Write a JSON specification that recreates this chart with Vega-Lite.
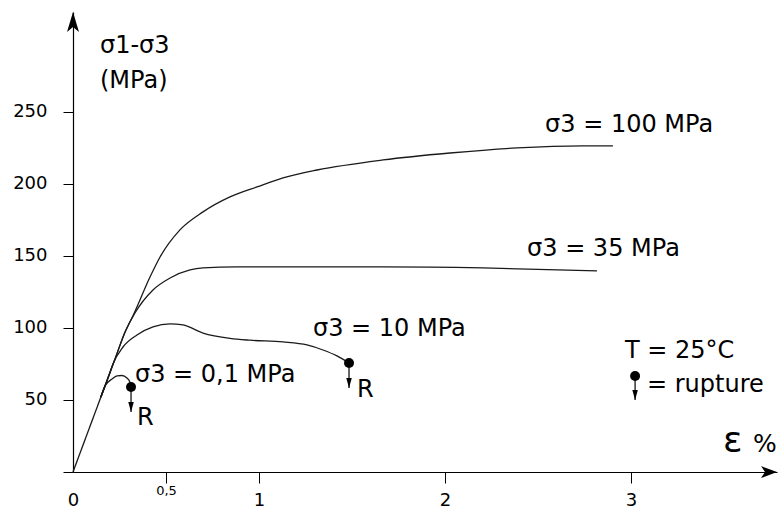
{
  "$schema": "https://vega.github.io/schema/vega-lite/v6.json",
  "width": 704,
  "height": 460,
  "autosize": {"type": "none"},
  "padding": {"left": 73, "top": 12, "right": 2, "bottom": 37},
  "background": "white",
  "config": {"view": {"stroke": null}, "font": "DejaVu Sans"},
  "datasets": {
    "curves": [
      {"s": "base", "x": 0, "y": 0},
      {"s": "base", "x": 0.172, "y": 59.7},
      {"s": "0.1", "x": 0.15, "y": 52.1},
      {"s": "0.1", "x": 0.172, "y": 59.7},
      {"s": "0.1", "x": 0.21, "y": 64.6},
      {"s": "0.1", "x": 0.237, "y": 66.7},
      {"s": "0.1", "x": 0.263, "y": 67.0},
      {"s": "0.1", "x": 0.29, "y": 65.3},
      {"s": "0.1", "x": 0.306, "y": 62.5},
      {"s": "0.1", "x": 0.312, "y": 59.0},
      {"s": "10", "x": 0.15, "y": 52.1},
      {"s": "10", "x": 0.172, "y": 59.7},
      {"s": "10", "x": 0.199, "y": 69.1},
      {"s": "10", "x": 0.215, "y": 75.0},
      {"s": "10", "x": 0.269, "y": 86.8},
      {"s": "10", "x": 0.344, "y": 95.1},
      {"s": "10", "x": 0.43, "y": 100.7},
      {"s": "10", "x": 0.522, "y": 102.8},
      {"s": "10", "x": 0.591, "y": 102.1},
      {"s": "10", "x": 0.699, "y": 96.5},
      {"s": "10", "x": 0.844, "y": 92.8},
      {"s": "10", "x": 0.952, "y": 91.5},
      {"s": "10", "x": 1.129, "y": 90.3},
      {"s": "10", "x": 1.258, "y": 88.2},
      {"s": "10", "x": 1.344, "y": 84.7},
      {"s": "10", "x": 1.419, "y": 80.6},
      {"s": "10", "x": 1.484, "y": 75.7},
      {"s": "35", "x": 0.15, "y": 52.1},
      {"s": "35", "x": 0.172, "y": 59.7},
      {"s": "35", "x": 0.231, "y": 80.3},
      {"s": "35", "x": 0.28, "y": 97.2},
      {"s": "35", "x": 0.333, "y": 110.4},
      {"s": "35", "x": 0.43, "y": 126.4},
      {"s": "35", "x": 0.522, "y": 134.7},
      {"s": "35", "x": 0.629, "y": 140.3},
      {"s": "35", "x": 0.699, "y": 141.7},
      {"s": "35", "x": 0.882, "y": 142.4},
      {"s": "35", "x": 1.059, "y": 142.4},
      {"s": "35", "x": 1.667, "y": 142.4},
      {"s": "35", "x": 2.204, "y": 141.7},
      {"s": "35", "x": 2.817, "y": 139.6},
      {"s": "100", "x": 0.15, "y": 52.1},
      {"s": "100", "x": 0.172, "y": 59.7},
      {"s": "100", "x": 0.231, "y": 80.3},
      {"s": "100", "x": 0.28, "y": 97.2},
      {"s": "100", "x": 0.323, "y": 108.6},
      {"s": "100", "x": 0.414, "y": 135.4},
      {"s": "100", "x": 0.468, "y": 149.3},
      {"s": "100", "x": 0.575, "y": 168.1},
      {"s": "100", "x": 0.699, "y": 180.6},
      {"s": "100", "x": 0.844, "y": 191.0},
      {"s": "100", "x": 0.989, "y": 197.9},
      {"s": "100", "x": 1.129, "y": 204.2},
      {"s": "100", "x": 1.312, "y": 209.7},
      {"s": "100", "x": 1.667, "y": 216.7},
      {"s": "100", "x": 2.027, "y": 221.5},
      {"s": "100", "x": 2.387, "y": 225.0},
      {"s": "100", "x": 2.742, "y": 226.4},
      {"s": "100", "x": 2.903, "y": 226.4}
    ],
    "ruptures": [
      {"x": 0.312, "y": 59.0, "yb": 41.7},
      {"x": 1.484, "y": 75.7, "yb": 58.3},
      {"x": 3.022, "y": 66.7, "yb": 50}
    ],
    "labels": [
      {"x": 2.538, "y": 236.1, "t": "σ3 = 100 MPa"},
      {"x": 2.441, "y": 150, "t": "σ3 = 35 MPa"},
      {"x": 1.29, "y": 94.4, "t": "σ3 = 10 MPa"},
      {"x": 0.333, "y": 62.5, "t": "σ3 = 0,1 MPa"},
      {"x": 0.344, "y": 32.6, "t": "R"},
      {"x": 1.527, "y": 52.1, "t": "R"},
      {"x": 2.968, "y": 79.2, "t": "T = 25°C"},
      {"x": 3.086, "y": 55.6, "t": "= rupture"},
      {"x": 0.145, "y": 291, "t": "σ1-σ3"},
      {"x": 0.145, "y": 266.7, "t": "(MPa)"}
    ]
  },
  "encoding": {
    "x": {
      "field": "x",
      "type": "quantitative",
      "scale": {"domain": [0, 3.785], "nice": false, "zero": false},
      "axis": {
        "values": [0, 0.5, 1, 2, 3],
        "labelExpr": "datum.value == 0.5 ? '0,5' : '' + datum.value",
        "title": null,
        "grid": false,
        "domainColor": "black",
        "domainWidth": 1.2,
        "tickColor": "black",
        "tickWidth": 1,
        "tickSize": 11,
        "tickOpacity": {"condition": {"test": "datum.value == 0", "value": 0}, "value": 1},
        "labelFont": "DejaVu Sans",
        "labelFontSize": {"condition": {"test": "datum.value == 0.5", "value": 13}, "value": 18},
        "labelPadding": {"condition": {"test": "datum.value == 0.5", "value": 1}, "value": 8},
        "labelColor": "black",
        "labelFlush": false,
        "labelOverlap": false
      }
    },
    "y": {
      "field": "y",
      "type": "quantitative",
      "scale": {"domain": [0, 319.4], "nice": false},
      "axis": {
        "values": [0, 50, 100, 150, 200, 250],
        "labelExpr": "datum.value == 0 ? '' : '' + datum.value",
        "title": null,
        "grid": false,
        "domainColor": "black",
        "domainWidth": 1.2,
        "tickColor": "black",
        "tickWidth": 1,
        "tickSize": 10,
        "labelFont": "DejaVu Sans",
        "labelFontSize": 18,
        "labelColor": "black",
        "labelPadding": 16
      }
    }
  },
  "layer": [
    {
      "data": {"name": "curves"},
      "mark": {"type": "line", "interpolate": "monotone", "color": "#1a1a1a", "strokeWidth": 1.3},
      "encoding": {"detail": {"field": "s", "type": "nominal"}}
    },
    {
      "data": {"name": "ruptures"},
      "mark": {"type": "rule", "color": "black", "strokeWidth": 1.2},
      "encoding": {"y2": {"field": "yb"}}
    },
    {
      "data": {"name": "ruptures"},
      "mark": {"type": "point", "shape": "circle", "filled": true, "color": "black", "size": 100, "opacity": 1}
    },
    {
      "data": {"name": "ruptures"},
      "mark": {"type": "point", "shape": "M0,0L-0.55,-2L0.55,-2Z", "filled": true, "color": "black", "size": 100, "opacity": 1},
      "encoding": {"y": {"field": "yb", "type": "quantitative"}}
    },
    {
      "data": {"values": [{"x": 0, "y": 319.4}]},
      "mark": {"type": "point", "shape": "M0,0L-0.6,2L0,1.5L0.6,2Z", "filled": true, "color": "black", "size": 400, "opacity": 1}
    },
    {
      "data": {"values": [{"x": 3.785, "y": 0}]},
      "mark": {"type": "point", "shape": "M0,0L-1.6,-0.6L-1.2,0L-1.6,0.6Z", "filled": true, "color": "black", "size": 400, "opacity": 1}
    },
    {
      "data": {"name": "labels"},
      "mark": {"type": "text", "align": "left", "baseline": "alphabetic", "font": "DejaVu Sans", "fontSize": 24, "color": "black"},
      "encoding": {"text": {"field": "t", "type": "nominal"}}
    },
    {
      "data": {"values": [{"x": 3.495, "y": 13.9, "t": "ε"}]},
      "mark": {"type": "text", "align": "left", "baseline": "alphabetic", "font": "DejaVu Sans", "fontSize": 36, "color": "black"},
      "encoding": {"text": {"field": "t", "type": "nominal"}}
    },
    {
      "data": {"values": [{"x": 3.656, "y": 13.9, "t": "%"}]},
      "mark": {"type": "text", "align": "left", "baseline": "alphabetic", "font": "DejaVu Sans", "fontSize": 25, "color": "black"},
      "encoding": {"text": {"field": "t", "type": "nominal"}}
    }
  ]
}
